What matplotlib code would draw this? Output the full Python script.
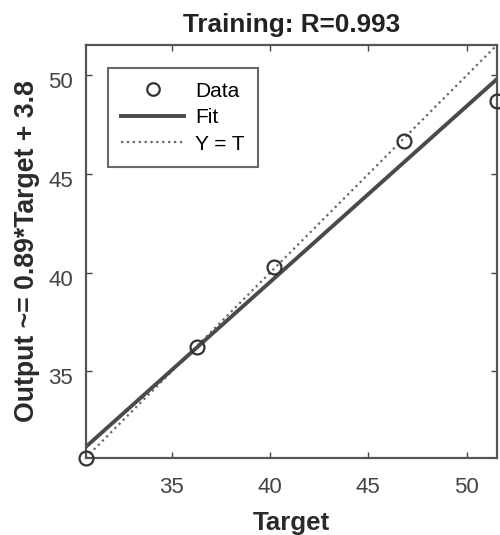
import numpy as np
import matplotlib
matplotlib.use("Agg")
import matplotlib.pyplot as plt
from matplotlib.transforms import ScaledTranslation

plt.rcParams['font.family'] = ['Liberation Sans', 'DejaVu Sans']

target = [30.6, 36.28, 40.22, 46.8, 51.55]
output = [30.6, 36.22, 40.27, 46.67, 48.73]
xticks = [35, 40, 45, 50]
yticks = [35, 40, 45, 50]
title = "Training: R=0.993"
ylabel = "Output ~= 0.89*Target + 3.8"
xlabel = "Target"

t = np.array(target)
o = np.array(output)
lo, hi = min(t.min(), o.min()), max(t.max(), o.max())
slope, intercept = np.polyfit(t, o, 1)

fig = plt.figure(figsize=(5, 5.35), dpi=100)
ax = fig.add_axes([0.171, 0.144, 0.823, 0.772])

line_col = '#4a4a4a'
xs = np.array([lo, hi])
ax.plot(t, o, 'o', mfc='none', mec='#333333', ms=10, mew=1.6, label='Data', zorder=3, clip_on=False)
ax.plot(xs, slope * xs + intercept, '-', color=line_col, lw=2.8, label='Fit', zorder=2)
ax.plot(xs, xs, ':', color='#666666', lw=1.6, label='Y = T', zorder=1)

ax.set_xlim(lo, hi)
ax.set_ylim(lo, hi)
ax.set_xticks(xticks)
ax.set_yticks(yticks)
ax.tick_params(direction='in', length=4, top=True, right=True, labelsize=16,
               colors='#444444', width=1.0)
ax.tick_params(axis='x', pad=14)
ax.tick_params(axis='y', pad=9)
for lab in ax.get_yticklabels():
    lab.set_transform(lab.get_transform() + ScaledTranslation(0, -5/100, fig.dpi_scale_trans))
for s in ax.spines.values():
    s.set_color('#555555')
    s.set_linewidth(1.6)

ax.set_title(title, fontsize=18.8, fontweight='bold', color='#222222', pad=9)
ax.set_xlabel(xlabel, fontsize=18.6, fontweight='bold', color='#2a2a2a', labelpad=9)
ax.set_ylabel(ylabel, fontsize=19.2, fontweight='bold', color='#2a2a2a', labelpad=6)

leg = ax.legend(loc='upper left', bbox_to_anchor=(0.054, 0.944), fontsize=15,
                frameon=True, fancybox=False, edgecolor='#444444',
                handlelength=3.0, handletextpad=0.55, labelspacing=0.36,
                borderaxespad=0, borderpad=0.65, markerfirst=True, markerscale=0.9)
leg.get_frame().set_linewidth(1.5)

fig.savefig('out.png', dpi=100, facecolor='white')
